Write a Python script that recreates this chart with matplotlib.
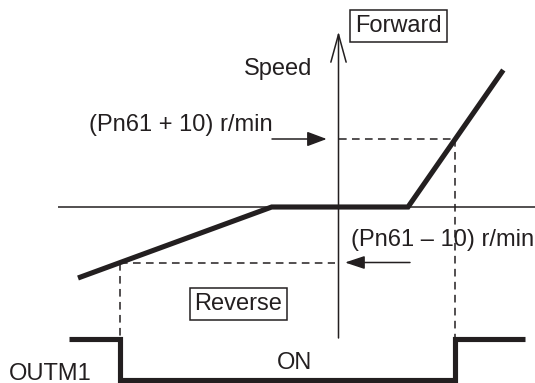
import numpy as np
import matplotlib
matplotlib.use("Agg")
import matplotlib.pyplot as plt
from matplotlib.patches import FancyArrowPatch

# ---- data (diagram units: origin at the speed axes crossing) ----
speed_x = [-260.5, -66.8, 69.5, 164.8]     # command / position of curve knots
speed_y = [-71.0, 0.0, 0.0, 137.0]          # motor speed
upper_level = 68.0                            # (Pn61 + 10) r/min
lower_level = -55.5                           # (Pn61 - 10) r/min
signal_high = -131.5
signal_low = -173.0
signal_left = -270.0
signal_right = 186.3

labels = {
    "speed": "Speed",
    "forward": "Forward",
    "reverse": "Reverse",
    "upper": "(Pn61 + 10) r/min",
    "lower": "(Pn61 \u2013 10) r/min",
    "on": "ON",
    "out": "OUTM1",
}

INK = "#231f20"
plt.rcParams["font.family"] = ["Liberation Sans", "DejaVu Sans"]

fig = plt.figure(figsize=(5.35, 3.83), dpi=100)
ax = fig.add_axes([0, 0, 1, 1])
ax.set_xlim(-338.5, 196.5)
ax.set_ylim(-176, 207)
ax.axis("off")

# horizontal axis
ax.plot([-280.5, 196.5], [0, 0], color=INK, lw=1.1, solid_capstyle="butt")
# vertical axis with open arrow head
ax.add_patch(FancyArrowPatch((0, -131), (0, 175.5), arrowstyle="->,head_length=2.0,head_width=0.55",
                             mutation_scale=10, color=INK, lw=1.1, shrinkA=0, shrinkB=0))

# speed curve
ax.plot(speed_x, speed_y, color=INK, lw=3.7, solid_capstyle="butt", solid_joinstyle="miter", zorder=3)

# switching points from the curve
sx = np.array(speed_x)
sy = np.array(speed_y)
x_right = np.interp(upper_level, sy[2:], sx[2:])
x_left = np.interp(lower_level, sy[:2], sx[:2])

dash = dict(color=INK, lw=1.1, linestyle=(0, (5, 3.5)))
ax.plot([0, x_right], [upper_level, upper_level], **dash)
ax.plot([x_right, x_right], [upper_level, signal_high], **dash)
ax.plot([x_left, -4], [lower_level, lower_level], **dash)
ax.plot([x_left, x_left], [lower_level, signal_high], **dash)

# OUTM1 signal
sig_x = [signal_left, x_left, x_left, x_right, x_right, signal_right]
sig_y = [signal_high, signal_high, signal_low, signal_low, signal_high, signal_high]
ax.plot(sig_x, sig_y, color=INK, lw=3.7, solid_capstyle="butt", solid_joinstyle="miter")

# level arrows
ax.add_patch(FancyArrowPatch((-66.5, upper_level), (-11.8, upper_level),
                             arrowstyle="-|>,head_length=1.2,head_width=0.45",
                             mutation_scale=10, color=INK, lw=1.1, shrinkA=0, shrinkB=0))
ax.add_patch(FancyArrowPatch((71.5, lower_level), (6.5, lower_level),
                             arrowstyle="-|>,head_length=1.2,head_width=0.4",
                             mutation_scale=10, color=INK, lw=1.1, shrinkA=0, shrinkB=0))

fs = 17
box = dict(boxstyle="square,pad=0.2", fc="white", ec=INK, lw=1.1)
ax.text(60, 181, labels["forward"], fontsize=fs, color=INK, ha="center", va="center", bbox=box)
ax.text(-60, 138.5, labels["speed"], fontsize=fs, color=INK, ha="center", va="center")
ax.text(-157.5, 82, labels["upper"], fontsize=fs, color=INK, ha="center", va="center")
ax.text(104, -33, labels["lower"], fontsize=fs, color=INK, ha="center", va="center")
ax.text(-100, -97, labels["reverse"], fontsize=fs, color=INK, ha="center", va="center", bbox=box)
ax.text(-44.5, -156, labels["on"], fontsize=fs, color=INK, ha="center", va="center")
ax.text(-288.5, -166.5, labels["out"], fontsize=fs, color=INK, ha="center", va="center")

fig.savefig("out.png", dpi=100, facecolor="white")
